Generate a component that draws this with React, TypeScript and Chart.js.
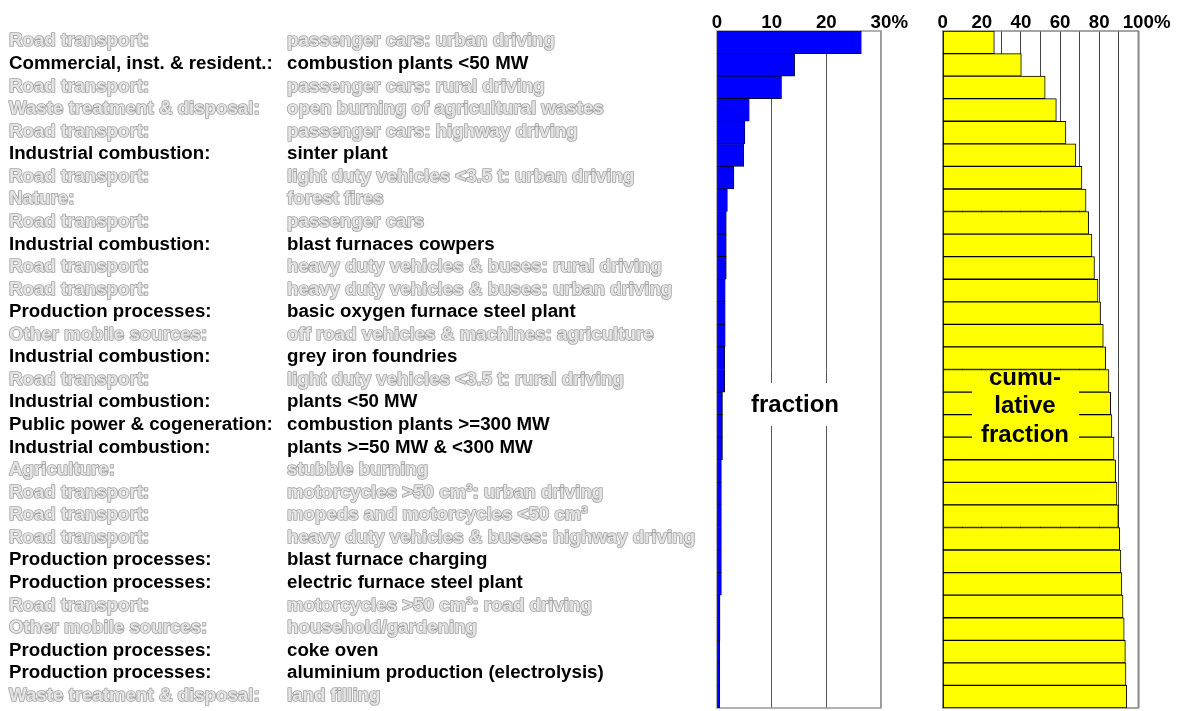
import React, { useEffect, useRef } from 'react';
import { Chart, registerables } from 'chart.js';
Chart.register(...registerables);

const categories = [
  'Road transport:', 'Commercial, inst. & resident.:', 'Road transport:', 'Waste treatment & disposal:',
  'Road transport:', 'Industrial combustion:', 'Road transport:', 'Nature:', 'Road transport:',
  'Industrial combustion:', 'Road transport:', 'Road transport:', 'Production processes:',
  'Other mobile sources:', 'Industrial combustion:', 'Road transport:', 'Industrial combustion:',
  'Public power & cogeneration:', 'Industrial combustion:', 'Agriculture:', 'Road transport:',
  'Road transport:', 'Road transport:', 'Production processes:', 'Production processes:',
  'Road transport:', 'Other mobile sources:', 'Production processes:', 'Production processes:',
  'Waste treatment & disposal:',
];

const details = [
  'passenger cars: urban driving', 'combustion plants <50 MW', 'passenger cars: rural driving',
  'open burning of agricultural wastes', 'passenger cars: highway driving', 'sinter plant',
  'light duty vehicles <3.5 t: urban driving', 'forest fires', 'passenger cars',
  'blast furnaces cowpers', 'heavy duty vehicles & buses: rural driving',
  'heavy duty vehicles & buses: urban driving', 'basic oxygen furnace steel plant',
  'off road vehicles & machines: agriculture', 'grey iron foundries',
  'light duty vehicles <3.5 t: rural driving', 'plants <50 MW', 'combustion plants >=300 MW',
  'plants >=50 MW & <300 MW', 'stubble burning', 'motorcycles >50 cm³: urban driving',
  'mopeds and motorcycles <50 cm³', 'heavy duty vehicles & buses: highway driving',
  'blast furnace charging', 'electric furnace steel plant', 'motorcycles >50 cm³: road driving',
  'household/gardening', 'coke oven', 'aluminium production (electrolysis)', 'land filling',
];

// true = drawn in black, false = drawn in outlined grey
const highlighted = [
  false, true, false, false, false, true, false, false, false, true,
  false, false, true, false, true, false, true, true, true, false,
  false, false, false, true, true, false, false, true, true, false,
];

const fractionValues = [
  26.4, 14.2, 11.8, 5.9, 5.1, 4.9, 3.1, 1.9, 1.7, 1.7,
  1.7, 1.5, 1.5, 1.5, 1.4, 1.4, 1.0, 1.0, 1.0, 0.8,
  0.8, 0.8, 0.8, 0.8, 0.8, 0.55, 0.55, 0.5, 0.5, 0.5,
];

const cumulativeValues = [
  26.4, 40.2, 52.4, 58.1, 63.0, 68.1, 71.2, 73.3, 74.6, 76.3,
  77.6, 79.4, 80.7, 82.1, 83.3, 85.0, 85.9, 86.5, 87.6, 88.4,
  89.1, 89.8, 90.5, 91.1, 91.6, 92.2, 92.8, 93.4, 93.7, 94.1,
];

const fractionTicks = [0, 10, 20, 30];
const cumulativeTicks = [0, 20, 40, 60, 80, 100];

const FONT = '"Liberation Sans", Arial, Helvetica, sans-serif';
const LABEL_FONT = `bold 18.7px ${FONT}`;

function tickLabelPlugin(ticks: number[]) {
  return {
    id: 'tickLabels',
    afterDraw(chart: any) {
      const { ctx } = chart;
      const sx = chart.scales.x;
      ctx.save();
      ctx.font = LABEL_FONT;
      ctx.fillStyle = '#000';
      ctx.textBaseline = 'alphabetic';
      ticks.forEach((v, i) => {
        const px = sx.getPixelForValue(v);
        const txt = String(v);
        ctx.textAlign = 'center';
        ctx.fillText(txt, px, 28);
        if (i === ticks.length - 1) {
          const w = ctx.measureText(txt).width;
          ctx.textAlign = 'left';
          ctx.fillText('%', px + w / 2, 28);
        }
      });
      ctx.restore();
    },
  };
}

function framePlugin(color: string, width: number) {
  return {
    id: 'frame',
    beforeDatasetsDraw(chart: any) {
      const { ctx, chartArea: a } = chart;
      ctx.save();
      ctx.strokeStyle = color;
      ctx.lineWidth = width;
      ctx.strokeRect(a.left, a.top, a.right - a.left, a.bottom - a.top);
      ctx.restore();
    },
  };
}

const rowLabelPlugin = {
  id: 'rowLabels',
  afterDraw(chart: any) {
    const { ctx } = chart;
    const sy = chart.scales.y;
    ctx.save();
    ctx.font = LABEL_FONT;
    ctx.textAlign = 'left';
    ctx.textBaseline = 'middle';
    ctx.lineJoin = 'round';
    categories.forEach((c, i) => {
      const py = sy.getPixelForValue(i) - 1;
      if (highlighted[i]) {
        ctx.fillStyle = '#000';
        ctx.fillText(c, 9, py);
        ctx.fillText(details[i], 287, py);
      } else {
        ctx.lineWidth = 1.7;
        ctx.strokeStyle = '#a3a3a3';
        ctx.strokeText(c, 9, py);
        ctx.strokeText(details[i], 287, py);
        ctx.fillStyle = '#e4e4e4';
        ctx.fillText(c, 9, py);
        ctx.fillText(details[i], 287, py);
      }
    });
    ctx.restore();
  },
};

function boxLabelPlugin(lines: string[], bg: string, box: [number, number, number, number], cx: number, ys: number[]) {
  return {
    id: 'boxLabel',
    afterDatasetsDraw(chart: any) {
      const { ctx } = chart;
      ctx.save();
      ctx.fillStyle = bg;
      ctx.fillRect(box[0], box[1], box[2] - box[0], box[3] - box[1]);
      ctx.font = `bold 24px ${FONT}`;
      ctx.fillStyle = '#000';
      ctx.textAlign = 'center';
      ctx.textBaseline = 'middle';
      lines.forEach((l, i) => ctx.fillText(l, cx, ys[i]));
      ctx.restore();
    },
  };
}

export default function App() {
  const ref1 = useRef<HTMLCanvasElement>(null);
  const ref2 = useRef<HTMLCanvasElement>(null);

  useEffect(() => {
    const labels = categories.map((_, i) => String(i));
    const c1 = new Chart(ref1.current as HTMLCanvasElement, {
      type: 'bar',
      data: {
        labels,
        datasets: [{
          data: fractionValues,
          backgroundColor: '#0000ff',
          borderColor: '#000',
          borderWidth: 0.7,
          borderSkipped: false,
          categoryPercentage: 1,
          barPercentage: 1,
        }],
      },
      options: {
        indexAxis: 'y',
        responsive: false,
        animation: false,
        devicePixelRatio: 1,
        layout: { padding: { left: 717, right: 49, top: 0, bottom: 3 } },
        plugins: { legend: { display: false }, tooltip: { enabled: false } },
        scales: {
          x: {
            position: 'top',
            min: 0,
            max: 30,
            ticks: { display: false, stepSize: 10 },
            grid: {
              drawTicks: false,
              color: (c: any) => (c.tick && c.tick.value === 30 ? '#999' : '#555'),
              lineWidth: (c: any) => (c.tick && c.tick.value === 30 ? 1.5 : 1),
            },
            border: { display: false },
            afterFit: (s: any) => { s.height = 31; },
          },
          y: { display: false },
        },
      } as any,
      plugins: [
        framePlugin('#999', 1.5),
        tickLabelPlugin(fractionTicks),
        rowLabelPlugin,
        boxLabelPlugin(['fraction'], '#fff', [746, 383, 845, 426], 795, [405]),
      ],
    });

    const c2 = new Chart(ref2.current as HTMLCanvasElement, {
      type: 'bar',
      data: {
        labels,
        datasets: [{
          data: cumulativeValues,
          backgroundColor: '#ffff00',
          borderColor: '#000',
          borderWidth: 1,
          borderSkipped: false,
          categoryPercentage: 1,
          barPercentage: 1,
        }],
      },
      options: {
        indexAxis: 'y',
        responsive: false,
        animation: false,
        devicePixelRatio: 1,
        layout: { padding: { left: 12.7, right: 38.7, top: 0, bottom: 3 } },
        plugins: { legend: { display: false }, tooltip: { enabled: false } },
        scales: {
          x: {
            position: 'top',
            min: 0,
            max: 100,
            ticks: { display: false, stepSize: 10 },
            grid: {
              drawTicks: false,
              color: (c: any) => (c.tick && c.tick.value === 100 ? '#888' : '#444'),
              lineWidth: (c: any) => (c.tick && c.tick.value === 100 ? 1.5 : 1),
            },
            border: { display: false },
            afterFit: (s: any) => { s.height = 31; },
          },
          y: { display: false },
        },
      } as any,
      plugins: [
        framePlugin('#888', 1.5),
        tickLabelPlugin(cumulativeTicks),
        boxLabelPlugin(['cumu-', 'lative', 'fraction'], '#ffff00', [42, 371, 149, 448], 95, [378, 406, 435]),
      ],
    });

    return () => { c1.destroy(); c2.destroy(); };
  }, []);

  return (
    <div style={{ position: 'absolute', left: 0, top: 0, width: 1177, height: 711, background: '#fff' }}>
      <canvas ref={ref1} width={930} height={711} style={{ position: 'absolute', left: 0, top: 0, width: 930, height: 711 }} />
      <canvas ref={ref2} width={247} height={711} style={{ position: 'absolute', left: 930, top: 0, width: 247, height: 711 }} />
    </div>
  );
}
